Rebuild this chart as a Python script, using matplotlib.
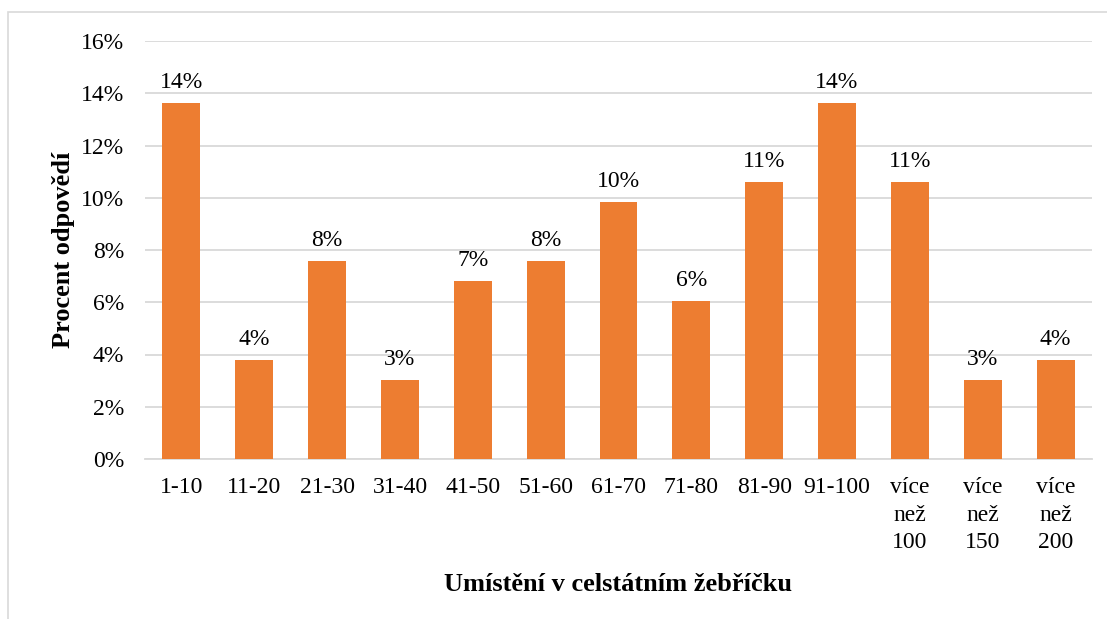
import matplotlib
matplotlib.use("Agg")
import matplotlib.pyplot as plt
from matplotlib.ticker import FuncFormatter, MultipleLocator
from matplotlib.patches import Rectangle

categories = ["1-10", "11-20", "21-30", "31-40", "41-50", "51-60", "61-70",
              "71-80", "81-90", "91-100", "více\nnež\n100", "více\nnež\n150", "více\nnež\n200"]
values = [13.64, 3.79, 7.58, 3.03, 6.82, 7.58, 9.85, 6.06, 10.61, 13.64, 10.61, 3.03, 3.79]
value_labels = ["14%", "4%", "8%", "3%", "7%", "8%", "10%", "6%", "11%", "14%", "11%", "3%", "4%"]

plt.rcParams['font.family'] = ['Liberation Serif', 'DejaVu Serif']

fig = plt.figure(figsize=(11.07, 6.19), dpi=100)
ax = fig.add_axes([145/1107, 1 - 459/619, (1092-145)/1107, (459-41)/619])

x = list(range(len(categories)))
bars = ax.bar(x, values, width=0.52, color="#ED7D31", zorder=3)
for xi, v, lab in zip(x, values, value_labels):
    ax.annotate(lab, (xi, v), xytext=(0, 7), textcoords="offset points",
                ha="center", va="bottom", fontsize=17)

ax.set_xlim(-0.5, len(categories) - 0.5)
ax.set_ylim(0, 16)
ax.yaxis.set_major_locator(MultipleLocator(2))
ax.yaxis.set_major_formatter(FuncFormatter(lambda v, p: f"{v:.0f}%"))
ax.set_xticks(x)
ax.set_xticklabels(categories, fontsize=17, linespacing=1.42, va="top")
ax.tick_params(axis="y", labelsize=17, length=0, pad=15)
ax.tick_params(axis="x", length=0, pad=13)
ax.grid(axis="y", color="#d9d9d9", linewidth=1.3, zorder=0)
for s in ["top", "right", "left"]:
    ax.spines[s].set_visible(False)
ax.spines["bottom"].set_color("#d9d9d9")
ax.spines["bottom"].set_linewidth(1.3)

ax.set_ylabel("Procent odpovědí", fontsize=19, fontweight="bold", labelpad=4)
ax.set_xlabel("Umístění v celstátním žebříčku", fontsize=19, fontweight="bold", labelpad=14)

fig.patches.append(Rectangle((8/1107, -0.05), 1.1, 1 - 12/619 + 0.05, transform=fig.transFigure,
                             fill=False, edgecolor="#d9d9d9", linewidth=1.2))

fig.savefig("out.png", dpi=100)
